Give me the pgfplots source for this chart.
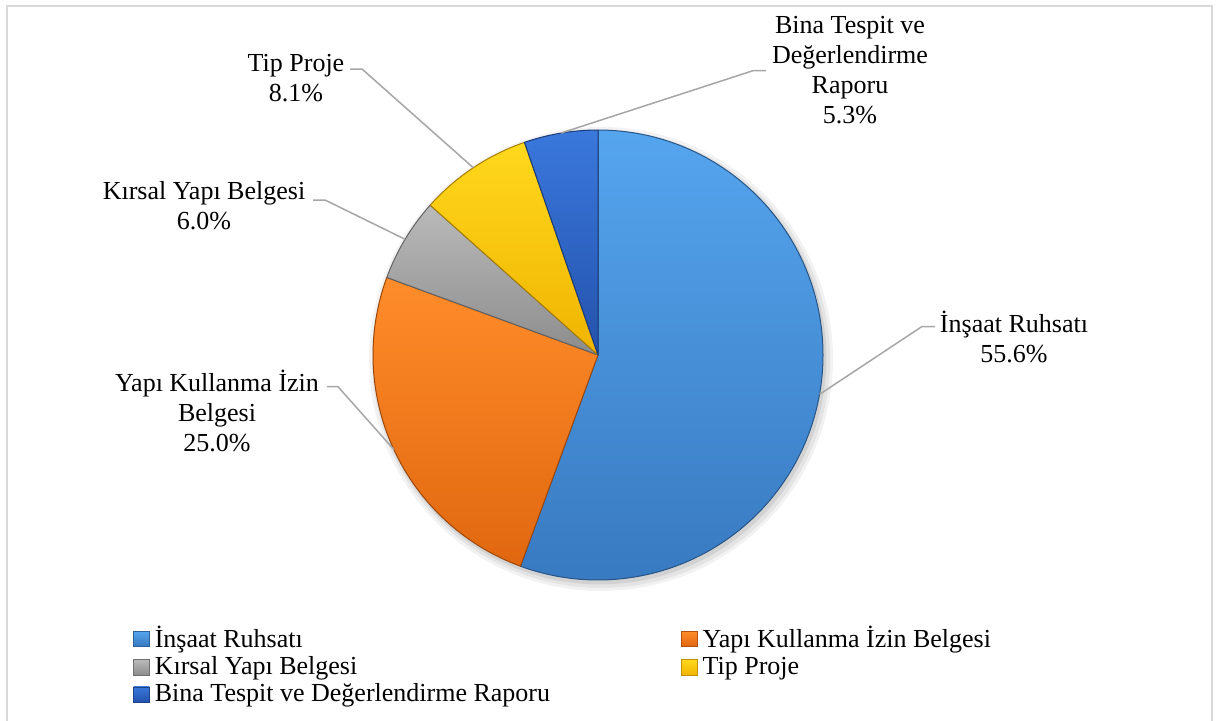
\documentclass[border=0pt]{standalone}
\usepackage{fontspec}
\setmainfont{Liberation Serif}
\usepackage{pgfplots}
\usepackage{pgfplotstable}
\pgfplotsset{compat=1.18}
\pgfkeys{/pgf/number format/assume math mode=true}

% slice colours (top / bottom of each gradient)
\definecolor{insTop}{HTML}{55A5EE}\definecolor{insBot}{HTML}{3879C0}
\definecolor{yapTop}{HTML}{FF8C2A}\definecolor{yapBot}{HTML}{E0670F}
\definecolor{kirTop}{HTML}{BABABA}\definecolor{kirBot}{HTML}{8C8C8C}
\definecolor{tipTop}{HTML}{FFD81C}\definecolor{tipBot}{HTML}{F0B400}
\definecolor{binTop}{HTML}{3A78DC}\definecolor{binBot}{HTML}{2452AC}
\definecolor{leadergrey}{HTML}{A6A6A6}
\definecolor{framegrey}{HTML}{D9D9D9}

\newcommand\lbl{\fontsize{13pt}{15pt}\selectfont}

% shares in percent, clockwise from 12 o'clock
\pgfplotstableread[col sep=comma]{
id,value
0,55.6
1,25.0
2,6.0
3,8.1
4,5.3
}\piedata

% start, end and middle angle of every slice
\xdef\cumangle{90}%
\foreach \i in {0,...,4}{%
  \pgfplotstablegetelem{\i}{value}\of\piedata
  \pgfmathsetmacro\sA{\cumangle}%
  \pgfmathsetmacro\eA{\cumangle-3.6*\pgfplotsretval}%
  \pgfmathsetmacro\mA{(\sA+\eA)/2}%
  \expandafter\xdef\csname pieval\i\endcsname{\pgfplotsretval}%
  \expandafter\xdef\csname piestart\i\endcsname{\sA}%
  \expandafter\xdef\csname pieend\i\endcsname{\eA}%
  \expandafter\xdef\csname piemid\i\endcsname{\mA}%
  \xdef\cumangle{\eA}%
}

% centre (598,365) and radius 225 in axis units; 1 unit = 0.5pt
\newcommand\pieslice[3]{%
  \shadedraw[top color=#2, bottom color=#3, draw=#3!70!black, line width=0.5pt, line join=round]
    (axis cs:598,365) --
    (axis cs:{598+225*cos(\csname piestart#1\endcsname)},{365+225*sin(\csname piestart#1\endcsname)})
    arc[start angle=\csname piestart#1\endcsname, end angle=\csname pieend#1\endcsname, radius=112.5pt]
    -- cycle;}
\newcommand\leader[4]{%
  \draw[leadergrey, line width=0.75pt]
    (axis cs:{598+225*cos(\csname piemid#1\endcsname)},{365+225*sin(\csname piemid#1\endcsname)})
    -- (axis cs:#2,#4) -- (axis cs:#3,#4);}
\newcommand\pct[1]{\pgfmathprintnumber[fixed,fixed zerofill,precision=1]{\csname pieval#1\endcsname}\%}

\pgfplotsset{sq/.style 2 args={legend image code/.code={%
  \shadedraw[top color=#1, bottom color=#2, draw=#2!80!black, line width=0.3pt]
    (0pt,-3.8pt) rectangle (7.8pt,3.8pt);}}}

\begin{document}
\begin{tikzpicture}
\begin{axis}[
  x=0.5pt, y=0.5pt,
  xmin=0, xmax=1221, ymin=0, ymax=720,
  hide axis,
  legend columns=2,
  legend cell align=left,
  legend style={at={(axis cs:133,97)}, anchor=north west,
    draw=none, fill=none, inner sep=0pt, font=\lbl,
    nodes={inner xsep=2.6pt, inner ysep=1.5pt},
    /tikz/every even column/.append style={column sep=63pt}},
]
% chart frame
\draw[framegrey, line width=1pt] (axis cs:6.5,-10) rectangle (axis cs:1212,714);

% soft shadow under the pie
\fill[black, opacity=0.05] (axis cs:601,361) circle[radius=116pt];
\fill[black, opacity=0.06] (axis cs:601,361) circle[radius=114.5pt];
\fill[black, opacity=0.08] (axis cs:600,362) circle[radius=113.2pt];

\pieslice{0}{insTop}{insBot}
\pieslice{1}{yapTop}{yapBot}
\pieslice{2}{kirTop}{kirBot}
\pieslice{3}{tipTop}{tipBot}
\pieslice{4}{binTop}{binBot}

\leader{0}{921.7}{935}{393.3}
\leader{1}{338}{327}{333.3}
\leader{2}{325}{313}{520}
\leader{3}{362}{350}{651}
\leader{4}{753}{766}{649.3}

\node[align=center, font=\lbl] at (axis cs:1014,383) {İnşaat Ruhsatı\\\pct{0}};
\node[align=center, font=\lbl] at (axis cs:217,309) {Yapı Kullanma İzin\\Belgesi\\\pct{1}};
\node[align=center, font=\lbl] at (axis cs:204,514) {Kırsal Yapı Belgesi\\\pct{2}};
\node[align=center, font=\lbl] at (axis cs:296,641.5) {Tip Proje\\\pct{3}};
\node[align=center, font=\lbl] at (axis cs:850,650) {Bina Tespit ve\\Değerlendirme\\Raporu\\\pct{4}};

\addlegendimage{sq={insTop}{insBot}}\addlegendentry{İnşaat Ruhsatı}
\addlegendimage{sq={yapTop}{yapBot}}\addlegendentry{Yapı Kullanma İzin Belgesi}
\addlegendimage{sq={kirTop}{kirBot}}\addlegendentry{Kırsal Yapı Belgesi}
\addlegendimage{sq={tipTop}{tipBot}}\addlegendentry{Tip Proje}
\addlegendimage{sq={binTop}{binBot}}\addlegendentry{Bina Tespit ve Değerlendirme Raporu}
\end{axis}
\pgfresetboundingbox
\path[use as bounding box] (current axis.south west) rectangle (current axis.north east);
\end{tikzpicture}
\end{document}
